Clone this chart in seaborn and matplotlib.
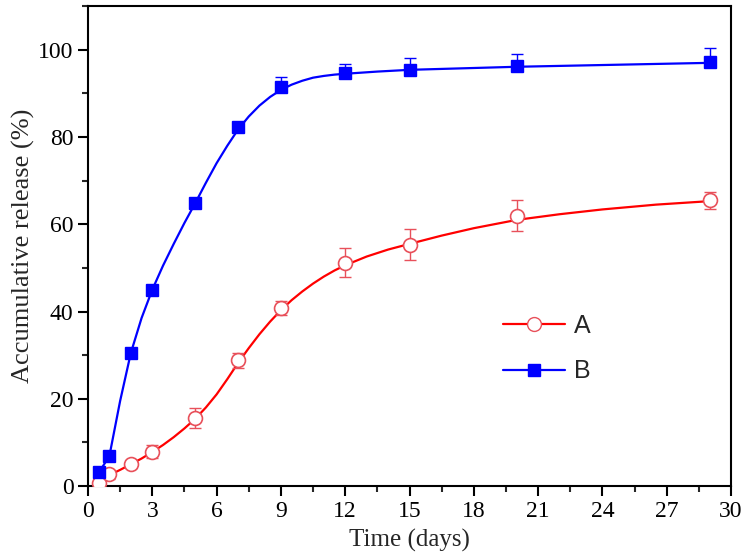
import numpy as np
import pandas as pd
import matplotlib
matplotlib.use("Agg")
import matplotlib.pyplot as plt
import seaborn as sns
from matplotlib.ticker import MultipleLocator
from matplotlib.lines import Line2D

# ── Data ────────────────────────────────────────────────────────────────────
time_days = [0.5, 1, 2, 3, 5, 7, 9, 12, 15, 20, 29]
release_a = [0.8, 2.7, 5.0, 7.9, 15.5, 28.8, 40.8, 51.2, 55.3, 62.0, 65.5]
err_a = [0.8, 1.0, 0.8, 1.5, 2.3, 1.7, 1.6, 3.3, 3.6, 3.5, 2.0]
release_b = [3.2, 6.9, 30.5, 45.0, 64.8, 82.3, 91.5, 94.6, 95.4, 96.2, 97.1]
err_b = [0.5, 0.5, 0.5, 0.5, 0.5, 1.0, 2.2, 2.2, 2.7, 2.9, 3.2]

# fitted curves
fit_t_a = [0.5, 1, 1.5, 2, 2.5, 3, 3.5, 4, 4.5, 5, 5.5, 6, 6.5, 7, 7.5, 8, 8.5,
           9, 9.5, 10, 10.5, 11, 11.5, 12, 13, 14, 15, 16.5, 18, 20, 22, 24,
           26.5, 29]
fit_a = [0.8, 2.5, 3.7, 5.0, 6.3, 7.8, 9.4, 11.2, 13.2, 15.4, 18.0, 21.0,
         24.5, 28.2, 31.6, 34.8, 37.7, 40.3, 42.6, 44.6, 46.4, 48.0, 49.4,
         50.6, 52.6, 54.2, 55.5, 57.4, 59.1, 61.0, 62.3, 63.4, 64.5, 65.3]
fit_t_b = [0.5, 1, 1.5, 2, 2.5, 3, 3.5, 4, 4.5, 5, 5.5, 6, 6.5, 7, 7.5, 8, 8.5,
           9, 9.5, 10, 10.5, 11, 11.5, 12, 13.5, 15, 20, 29]
fit_b = [3.0, 6.9, 19.5, 30.5, 38.5, 45.0, 50.5, 55.5, 60.3, 64.8, 69.5, 74.0,
         78.0, 81.7, 84.7, 87.2, 89.2, 90.8, 92.0, 92.9, 93.6, 94.0, 94.3,
         94.5, 95.0, 95.4, 96.1, 97.0]

red = "#ff0000"
red_light = "#e8505a"
blue = "#0000ff"

sns.set_style("ticks")
plt.rcParams["font.family"] = ["Liberation Serif", "DejaVu Serif"]
plt.rcParams["xtick.direction"] = "out"
plt.rcParams["ytick.direction"] = "out"

fig = plt.figure(figsize=(7.5, 5.58), dpi=100)
ax = fig.add_axes([0.1173, 0.129, 0.8574, 0.860])

fit_df = pd.concat([
    pd.DataFrame({"t": fit_t_a, "y": fit_a, "s": "A"}),
    pd.DataFrame({"t": fit_t_b, "y": fit_b, "s": "B"}),
])
sns.lineplot(data=fit_df, x="t", y="y", hue="s", palette={"A": red, "B": blue},
             lw=1.6, ax=ax, legend=False, sort=True)

# error bars
ax.errorbar(time_days, release_a, yerr=err_a, fmt="none", ecolor=red_light,
            elinewidth=1.0, capsize=4, capthick=1.0, zorder=3)
ax.errorbar(time_days, release_b, yerr=[np.zeros(len(err_b)), err_b], fmt="none",
            ecolor=blue, elinewidth=1.0, capsize=4, capthick=1.0, zorder=3)

# markers
ax.plot(time_days, release_a, "o", ms=10, mfc="white", mec=red_light, mew=1.2,
        ls="none", zorder=4)
ax.plot(time_days, release_b, "s", ms=8, mfc=blue, mec=blue, ls="none", zorder=4)

ax.set_xlim(0, 30)
ax.set_ylim(0, 110)
ax.xaxis.set_major_locator(MultipleLocator(3))
ax.xaxis.set_minor_locator(MultipleLocator(1.5))
ax.yaxis.set_major_locator(MultipleLocator(20))
ax.yaxis.set_minor_locator(MultipleLocator(10))
ax.tick_params(which="major", length=7, width=1.5, labelsize=17, colors="black")
ax.tick_params(which="minor", length=4, width=1.5)
for sp in ax.spines.values():
    sp.set_linewidth(1.5)
    sp.set_color("black")

ax.set_xlabel("Time (days)", fontsize=18, labelpad=5)
ax.set_ylabel("Accumulative release (%)", fontsize=19, labelpad=2)

handles = [
    Line2D([], [], color=red, lw=1.6, marker="o", ms=10, mfc="white", mec=red_light),
    Line2D([], [], color=blue, lw=1.6, marker="s", ms=8, mfc=blue, mec=blue),
]
ax.legend(handles, ["A", "B"], loc="upper left", bbox_to_anchor=(0.61, 0.405),
          frameon=False, handlelength=2.5, labelspacing=0.85, handletextpad=0.35,
          prop={"family": "Liberation Sans", "size": 18})

fig.savefig("out.png", dpi=100)
